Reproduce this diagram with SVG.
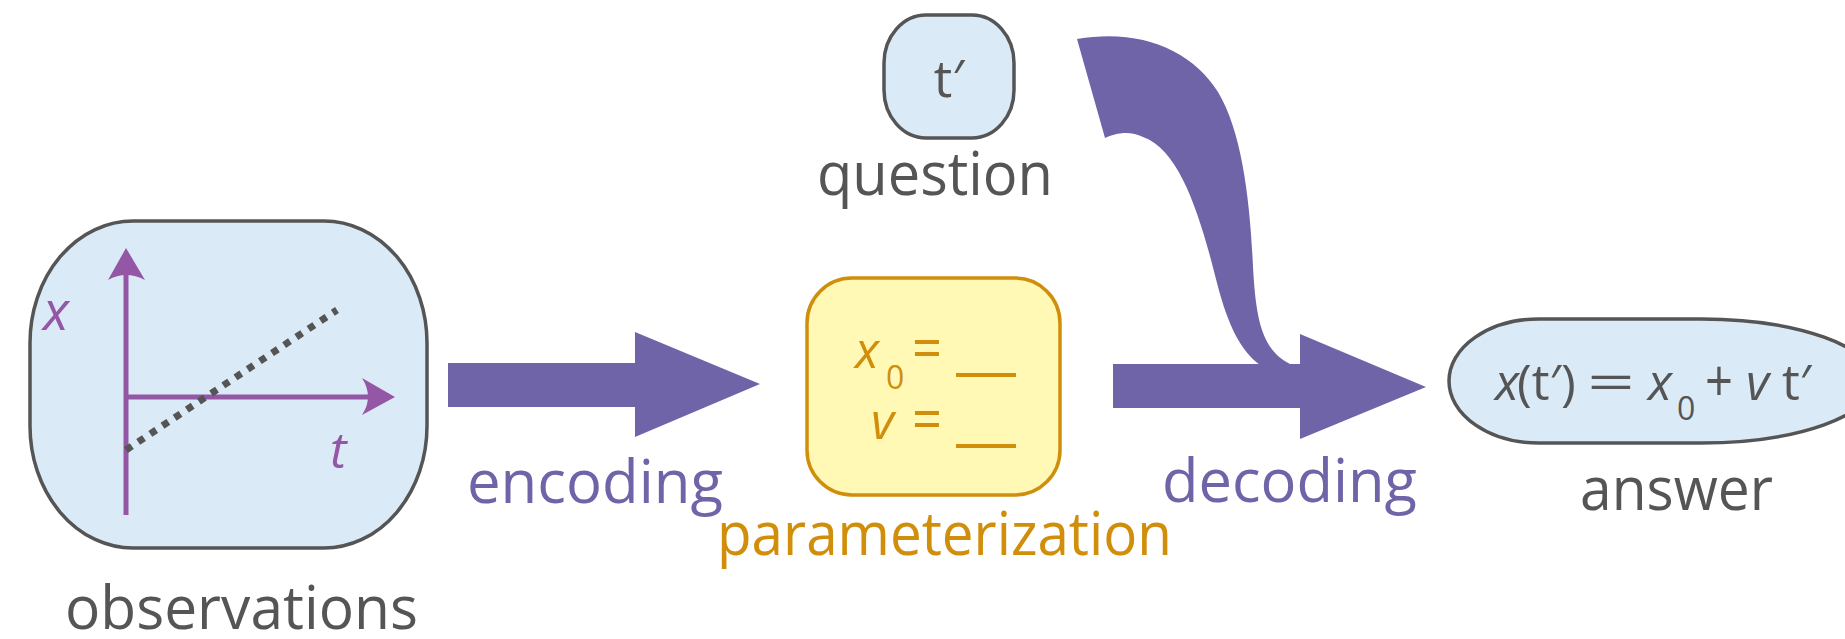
<svg xmlns="http://www.w3.org/2000/svg" width="1845" height="639" viewBox="0 0 1845 639">
<defs>
<style>
.box{fill:#daebf7;stroke:#555555;stroke-width:3.5}
.lbl{font-family:"Open Sans","Noto Sans",sans-serif;font-size:60px;fill:#555555}
.pur{fill:#6f64a8}
.org{fill:#d08e0a}
.arrow{fill:#6f64a8}
.math{font-family:"Open Sans","Noto Sans",sans-serif;font-size:50px;fill:#555555}
.om{fill:#d08e0a}
.it{font-style:italic}
.sub{font-size:32px}
</style>
</defs>
<rect width="1845" height="639" fill="#ffffff"/>

<g id="connectors">
  <path class="arrow" d="M448,363 H635 V332 L760,384 L635,437 V407 H448 Z"/>
  <path class="arrow" d="M1077,39 C1140,28 1192,50 1218,92 C1242,132 1250,200 1253,267 C1256,320 1262,350 1290,364 L1290,380 L1260,380 L1260,365 C1240,350 1228,325 1217,283 C1200,215 1180,150 1143,137 C1130,130 1115,133 1105,138 Z"/>
  <path class="arrow" d="M1113,364 H1300 V334 L1426,387 L1300,439 V408 H1113 Z"/>
  <text class="lbl pur" x="467" y="503" textLength="256" lengthAdjust="spacingAndGlyphs">encoding</text>
  <text class="lbl pur" x="1162" y="502" textLength="255" lengthAdjust="spacingAndGlyphs">decoding</text>
</g>

<g id="observations">
  <rect class="box" x="30" y="221" width="397" height="327" rx="103" ry="122"/>
  <line x1="126" y1="270" x2="126" y2="515" stroke="#9457a6" stroke-width="5"/>
  <path d="M126,248 L145,280 Q126,270 108,280 Z" fill="#9457a6"/>
  <line x1="124" y1="397" x2="375" y2="397" stroke="#9457a6" stroke-width="5"/>
  <path d="M395,397 L362,378 Q374,397 362,415 Z" fill="#9457a6"/>
  <line x1="126" y1="450" x2="337" y2="310" stroke="#555555" stroke-width="7" stroke-dasharray="7 7.6"/>
  <text class="math it" x="43" y="330" style="fill:#9457a6;font-size:54px">x</text>
  <text class="math it" x="330" y="468" style="fill:#9457a6;font-size:50px">t</text>
  <text class="lbl" x="65" y="629" textLength="353" lengthAdjust="spacingAndGlyphs">observations</text>
</g>

<g id="parameterization">
  <rect x="807" y="278" width="253" height="217" rx="45" ry="45" fill="#fff9b5" stroke="#d08e0a" stroke-width="3.5"/>
  <text class="math it om" x="855" y="368">x</text>
  <text class="math om sub" x="886" y="389">0</text>
  <text class="math om" x="912" y="369" textLength="30" lengthAdjust="spacingAndGlyphs" style="font-size:60px">=</text>
  <line x1="956" y1="375" x2="1016" y2="375" stroke="#d08e0a" stroke-width="4"/>
  <text class="math it om" x="871" y="439">v</text>
  <text class="math om" x="912" y="440" textLength="30" lengthAdjust="spacingAndGlyphs" style="font-size:60px">=</text>
  <line x1="956" y1="446" x2="1016" y2="446" stroke="#d08e0a" stroke-width="4"/>
  <text class="lbl org" x="717" y="555" textLength="455" lengthAdjust="spacingAndGlyphs">parameterization</text>
</g>

<g id="question">
  <rect class="box" x="884" y="15" width="130" height="123" rx="42" ry="48"/>
  <text class="math" x="949" y="97" text-anchor="middle" style="font-size:52px">t′</text>
  <text class="lbl" x="817" y="195" textLength="236" lengthAdjust="spacingAndGlyphs">question</text>
</g>

<g id="answer">
  <path class="box" d="M1539,319 H1701 A174,62 0 0 1 1701,443 H1539 A90,62 0 0 1 1539,319 Z"/>
  <text class="math it" x="1495" y="400">x</text>
  <text class="math" x="1517" y="400">(t′)</text>
  <text class="math" x="1587" y="400" textLength="48" lengthAdjust="spacingAndGlyphs">=</text>
  <text class="math it" x="1648" y="400">x</text>
  <text class="math sub" x="1677" y="420">0</text>
  <text class="math" x="1705" y="402" textLength="28" lengthAdjust="spacingAndGlyphs" style="font-size:58px">+</text>
  <text class="math it" x="1746" y="400">v</text>
  <text class="math" x="1782" y="400">t′</text>
  <text class="lbl" x="1580" y="510" textLength="193" lengthAdjust="spacingAndGlyphs">answer</text>
</g>
</svg>
